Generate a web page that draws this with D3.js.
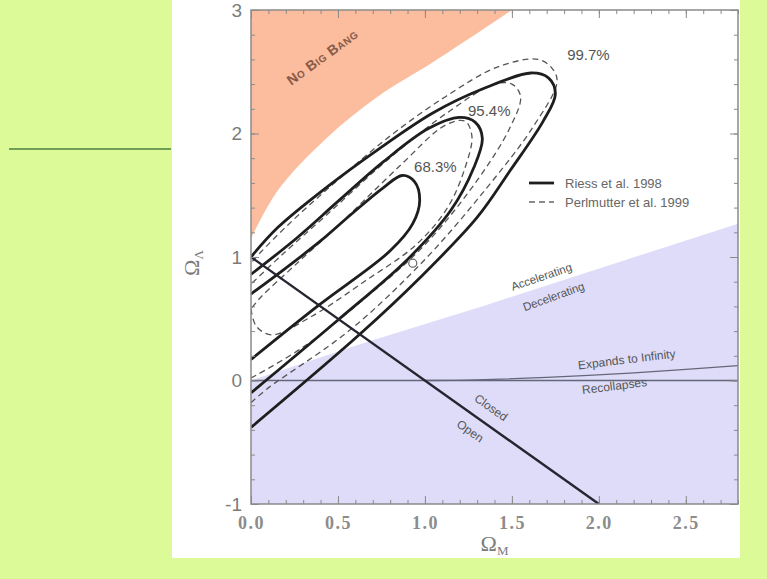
<!DOCTYPE html>
<html>
<head>
<meta charset="utf-8">
<script src="https://cdn.jsdelivr.net/npm/d3@7"></script>
<style>
  body { margin: 0; background: #dcfa98; }
  svg { display: block; }
</style>
</head>
<body>
<div id="chart"></div>
<script>
// axis ticks
var xTicks = [0, 0.5, 1.0, 1.5, 2.0, 2.5];
var yTicks = [-1, 0, 1, 2, 3];

// region boundaries, [Omega_M, Omega_Lambda]
var noBigBang = [[0, 1.15], [0.155, 1.54], [0.44, 1.97], [0.73, 2.30], [1.05, 2.58], [1.50, 3.0]];
var accelLine = [[0, 0], [0.64, 0.30], [1.35, 0.61], [2.8, 1.27]];
var recollapse = [[1.0, 0], [1.3, 0.005], [1.7, 0.025], [2.18, 0.06], [2.5, 0.09], [2.8, 0.12]];
var zeroLine = [[0, 0], [2.8, 0]];
var flatLine = [[0, 1], [2, -1]];

// Riess et al. 1998 contours (solid)
var riess68 = [[0, 0.17], [0.39, 0.61], [0.80, 1.05], [0.93, 1.27], [0.97, 1.46], [0.94, 1.61], [0.87, 1.66],
    [0.76, 1.56], [0.58, 1.35], [0.40, 1.13], [0.20, 0.91], [0, 0.70]];
var riess95 = [[0, -0.10], [0.50, 0.49], [0.90, 0.98], [1.15, 1.38], [1.28, 1.72], [1.33, 1.96], [1.29, 2.09],
    [1.20, 2.13], [1.02, 2.04], [0.76, 1.77], [0.50, 1.45], [0.26, 1.15], [0, 0.86]];
var riess99 = [[0, -0.38], [0.63, 0.38], [0.97, 0.83], [1.30, 1.32], [1.49, 1.70], [1.68, 2.10], [1.75, 2.32],
    [1.71, 2.45], [1.61, 2.49], [1.33, 2.36], [1.05, 2.17], [0.73, 1.87], [0.44, 1.57], [0.155, 1.24], [0, 1.0]];

// Perlmutter et al. 1999 contours (dashed)
var perl68 = [[0, 0.58], [0.03, 0.44], [0.12, 0.37], [0.35, 0.52], [0.65, 0.80], [0.95, 1.10], [1.13, 1.40],
    [1.23, 1.72], [1.27, 1.98], [1.23, 2.10], [1.12, 2.07], [0.85, 1.73], [0.52, 1.28], [0.25, 0.93], [0.06, 0.68], [0, 0.58]];
var perl95 = [[0, 0.02], [0.30, 0.27], [0.65, 0.66], [1.00, 1.10], [1.30, 1.62], [1.49, 2.05], [1.55, 2.30],
    [1.50, 2.40], [1.40, 2.40], [1.12, 2.16], [0.78, 1.78], [0.45, 1.36], [0.18, 1.02], [0, 0.78]];
var perl99 = [[0, -0.18], [0.09, -0.07], [0.57, 0.41], [1.00, 0.98], [1.35, 1.55], [1.62, 2.05], [1.76, 2.42],
    [1.73, 2.53], [1.65, 2.60], [1.42, 2.54], [1.12, 2.30], [0.80, 1.98], [0.48, 1.60], [0.22, 1.27], [0.05, 1.03], [0, 0.95]];

var bestFit = [[0.93, 0.95]];

var W = 767, H = 579;

var svg = d3.select("#chart").append("svg")
    .attr("width", W)
    .attr("height", H);

// slide decoration
svg.append("line")
    .attr("x1", 9).attr("x2", 171).attr("y1", 149).attr("y2", 149)
    .attr("stroke", "#6f9e55").attr("stroke-width", 2);

svg.append("rect")
    .attr("x", 172).attr("y", 0).attr("width", 568).attr("height", 558)
    .attr("fill", "#ffffff");

var x = d3.scaleLinear().domain([0, 2.8]).range([251, 738]);
var y = d3.scaleLinear().domain([-1, 3]).range([504, 10]);

svg.append("defs").append("clipPath").attr("id", "plotclip")
    .append("rect")
    .attr("x", x(0)).attr("y", y(3))
    .attr("width", x(2.8) - x(0)).attr("height", y(-1) - y(3));

var plot = svg.append("g").attr("clip-path", "url(#plotclip)");

// shaded regions
plot.append("path")
    .datum(noBigBang)
    .attr("fill", "#fbbd9e")
    .attr("d", d3.area()
        .curve(d3.curveCatmullRom.alpha(0.5))
        .x(d => x(d[0]))
        .y0(y(3))
        .y1(d => y(d[1])));

plot.append("path")
    .datum(accelLine)
    .attr("fill", "#dedcf8")
    .attr("d", d3.area()
        .x(d => x(d[0]))
        .y0(y(-1))
        .y1(d => y(d[1])));

var line = d3.line().x(d => x(d[0])).y(d => y(d[1]));
var smooth = d3.line().curve(d3.curveCatmullRom.alpha(0.5)).x(d => x(d[0])).y(d => y(d[1]));

plot.append("path").datum(zeroLine).attr("d", line)
    .attr("fill", "none").attr("stroke", "#66667a").attr("stroke-width", 1.3);
plot.append("path").datum(recollapse).attr("d", smooth)
    .attr("fill", "none").attr("stroke", "#66667a").attr("stroke-width", 1.3);

// contours
[perl68, perl95, perl99].forEach(function (c) {
    plot.append("path").datum(c).attr("d", smooth)
        .attr("fill", "none")
        .attr("stroke", "#555")
        .attr("stroke-width", 1.3)
        .attr("stroke-dasharray", "6,4");
});
[riess68, riess95, riess99].forEach(function (c) {
    plot.append("path").datum(c).attr("d", smooth)
        .attr("fill", "none")
        .attr("stroke", "#1e1e1e")
        .attr("stroke-width", 2.8);
});

plot.append("path").datum(flatLine).attr("d", line)
    .attr("fill", "none").attr("stroke", "#252530").attr("stroke-width", 2.4);

plot.selectAll(".fit").data(bestFit).enter().append("circle")
    .attr("cx", d => x(d[0])).attr("cy", d => y(d[1])).attr("r", 4)
    .attr("fill", "none").attr("stroke", "#666").attr("stroke-width", 1.2);

// annotations
function note(txt, mx, ml, angle, size, color) {
    return svg.append("text")
        .attr("transform", "translate(" + x(mx) + "," + y(ml) + ") rotate(" + angle + ")")
        .attr("text-anchor", "middle")
        .attr("dominant-baseline", "central")
        .attr("font-family", "Liberation Sans, Arial, sans-serif")
        .attr("font-size", size)
        .attr("fill", color)
        .text(txt);
}
note("No Big Bang", 0.41, 2.62, -36, 14, "#8a5a48")
    .style("font-variant", "small-caps").attr("font-weight", "bold").attr("letter-spacing", 0.5);
note("99.7%", 1.94, 2.64, 0, 15, "#555");
note("95.4%", 1.37, 2.19, 0, 15, "#555");
note("68.3%", 1.06, 1.73, 0, 15, "#555");
note("Accelerating", 1.67, 0.84, -19, 11.5, "#555");
note("Decelerating", 1.74, 0.68, -20, 11.5, "#555");
note("Expands to Infinity", 2.16, 0.17, -7, 12, "#555");
note("Recollapses", 2.09, -0.045, -7, 12, "#555");
note("Closed", 1.38, -0.22, 35, 12, "#555");
note("Open", 1.26, -0.41, 35, 12, "#555");

// legend
var leg = svg.append("g").attr("transform", "translate(529,183)");
leg.append("line").attr("x1", 0).attr("x2", 25).attr("y1", 0).attr("y2", 0)
    .attr("stroke", "#1e1e1e").attr("stroke-width", 2.8);
leg.append("line").attr("x1", 0).attr("x2", 25).attr("y1", 19).attr("y2", 19)
    .attr("stroke", "#666").attr("stroke-width", 1.3).attr("stroke-dasharray", "6,4");
leg.append("text").attr("x", 36).attr("y", 0).attr("dominant-baseline", "central")
    .attr("font-family", "Liberation Sans, Arial, sans-serif").attr("font-size", 13).attr("fill", "#666")
    .text("Riess et al. 1998");
leg.append("text").attr("x", 36).attr("y", 19).attr("dominant-baseline", "central")
    .attr("font-family", "Liberation Sans, Arial, sans-serif").attr("font-size", 13).attr("fill", "#666")
    .text("Perlmutter et al. 1999");

// axes with inward ticks
var frameColor = "#8a8a8a";
function styleAxis(g) {
    g.select(".domain").remove();
    g.selectAll(".tick line").attr("stroke", frameColor);
}

svg.append("g").attr("transform", "translate(0," + y(-1) + ")")
    .call(d3.axisBottom(x).tickValues(x.ticks(28)).tickSize(-4).tickFormat(""))
    .call(styleAxis);
svg.append("g").attr("transform", "translate(0," + y(3) + ")")
    .call(d3.axisTop(x).tickValues(x.ticks(28)).tickSize(-4).tickFormat(""))
    .call(styleAxis);
svg.append("g").attr("transform", "translate(0," + y(3) + ")")
    .call(d3.axisTop(x).tickValues(xTicks).tickSize(-8).tickFormat(""))
    .call(styleAxis);

var xAxis = svg.append("g").attr("transform", "translate(0," + y(-1) + ")")
    .call(d3.axisBottom(x).tickValues(xTicks).tickSize(-8).tickPadding(12).tickFormat(d3.format(".1f")))
    .call(styleAxis);
xAxis.selectAll("text")
    .attr("font-family", "Liberation Serif, Times New Roman, serif")
    .attr("font-size", 18).attr("font-weight", "bold").attr("letter-spacing", 1.5).attr("fill", "#8c8c8c");

svg.append("g").attr("transform", "translate(" + x(0) + ",0)")
    .call(d3.axisLeft(y).tickValues(y.ticks(20)).tickSize(-4).tickFormat(""))
    .call(styleAxis);
svg.append("g").attr("transform", "translate(" + x(2.8) + ",0)")
    .call(d3.axisRight(y).tickValues(y.ticks(20)).tickSize(-4).tickFormat(""))
    .call(styleAxis);
svg.append("g").attr("transform", "translate(" + x(2.8) + ",0)")
    .call(d3.axisRight(y).tickValues(yTicks).tickSize(-8).tickFormat(""))
    .call(styleAxis);

var yAxis = svg.append("g").attr("transform", "translate(" + x(0) + ",0)")
    .call(d3.axisLeft(y).tickValues(yTicks).tickSize(-8).tickPadding(9).tickFormat(d => String(d)))
    .call(styleAxis);
yAxis.selectAll("text")
    .attr("font-family", "Liberation Sans, Arial, sans-serif")
    .attr("font-size", 19).attr("fill", "#7c7c7c");

// frame
svg.append("rect")
    .attr("x", x(0)).attr("y", y(3))
    .attr("width", x(2.8) - x(0)).attr("height", y(-1) - y(3))
    .attr("fill", "none").attr("stroke", frameColor).attr("stroke-width", 1.5);

// axis titles
var xt = svg.append("text")
    .attr("x", (x(0) + x(2.8)) / 2).attr("y", 551)
    .attr("text-anchor", "middle")
    .attr("font-family", "Liberation Serif, Times New Roman, serif")
    .attr("font-size", 22).attr("fill", "#7c7c7c");
xt.append("tspan").text("\u03A9");
xt.append("tspan").attr("font-size", 13).attr("dy", 4).text("M");

var yt = svg.append("text")
    .attr("transform", "translate(199," + ((y(3) + y(-1)) / 2 + 6) + ") rotate(-90)")
    .attr("text-anchor", "middle")
    .attr("font-family", "Liberation Serif, Times New Roman, serif")
    .attr("font-size", 22).attr("fill", "#7c7c7c");
yt.append("tspan").text("\u03A9");
yt.append("tspan").attr("font-size", 13).attr("dy", 4).text("\u039B");
</script>
</body>
</html>
